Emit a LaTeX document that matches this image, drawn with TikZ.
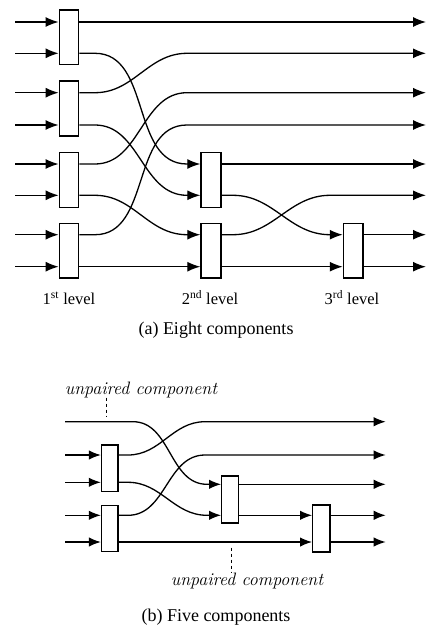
\documentclass[tikz,border=0pt]{standalone}
\usepackage{fontspec}
\newfontfamily\tnrfont{Liberation Serif}
\usetikzlibrary{arrows.meta,calc}
\tikzset{
  box/.style={draw, fill=white, line width=1.4pt, inner sep=0pt, minimum width=19.4pt},
  sbox/.style={draw, fill=white, line width=1.3pt, inner sep=0pt, minimum width=16.6pt, minimum height=46.7pt},
  wire/.style={line width=1.3pt},
  arr/.style={wire, -{Latex[length=13pt,width=10pt]}},
  sarr/.style={wire, -{Latex[length=12pt,width=9.4pt]}},
  lvl/.style={inner sep=0pt, font=\tnrfont\fontsize{16.5}{19}\selectfont},
  captext/.style={inner sep=0pt, font=\tnrfont\fontsize{18}{22}\selectfont},
  ulab/.style={inner sep=0pt, font=\itshape\fontsize{18}{21}\selectfont},
  pointer/.style={line width=0.9pt, dash pattern=on 3.5pt off 2.5pt},
}
\begin{document}
\begin{tikzpicture}[x=1pt,y=-1pt]
\useasboundingbox (0,0) rectangle (427,626);
% ---------------- (a) ----------------
\foreach \n/\y in {1/22,2/53.3,3/92.7,4/125,5/164,6/195.3,7/234.7,8/266.7} {
  \coordinate (in\n) at (15.3,\y);
  \coordinate (out\n) at (426,\y);
}
\coordinate (s1) at (95,0);  \coordinate (e1) at (187,0);
\coordinate (s2) at (233,0); \coordinate (e2) at (330,0);

\node[box, minimum height=54.3pt] (A1) at (69,37.15) {};
\node[box, minimum height=55pt]   (A2) at (69,108.5) {};
\node[box, minimum height=55pt]   (A3) at (69,179.8) {};
\node[box, minimum height=54.7pt] (A4) at (69,250.65) {};
\node[box, minimum width=20pt, minimum height=55pt]   (B1) at (211,179.8) {};
\node[box, minimum width=20pt, minimum height=54.7pt] (B2) at (211,250.65) {};
\node[box, minimum height=54.7pt] (C1) at (353.15,250.65) {};

\foreach \n/\b in {1/A1,2/A1,3/A2,4/A2,5/A3,6/A3,7/A4,8/A4}
  \draw[arr] (in\n) -- (\b.west |- in\n);

\draw[arr] (A1.east |- in1) -- (out1);
\draw[arr] (B1.east |- in5) -- (out5);
\draw[arr] (A4.east |- in8) -- (B2.west |- in8);
\draw[arr] (B2.east |- in8) -- (C1.west |- in8);
\draw[arr] (C1.east |- in7) -- (out7);
\draw[arr] (C1.east |- in8) -- (out8);

\draw[arr] (A1.east |- in2) -- (s1 |- in2) to[out=0,in=180] (e1 |- in5) -- (B1.west |- in5);
\draw[arr] (A2.east |- in3) -- (s1 |- in3) to[out=0,in=180] (e1 |- in2) -- (out2);
\draw[arr] (A2.east |- in4) -- (s1 |- in4) to[out=0,in=180] (e1 |- in6) -- (B1.west |- in6);
\draw[arr] (A3.east |- in5) -- (s1 |- in5) to[out=0,in=180] (e1 |- in3) -- (out3);
\draw[arr] (A3.east |- in6) -- (s1 |- in6) to[out=0,in=180] (e1 |- in7) -- (B2.west |- in7);
\draw[arr] (A4.east |- in7) -- (s1 |- in7) to[out=0,in=180] (e1 |- in4) -- (out4);
\draw[arr] (B1.east |- in6) -- (s2 |- in6) to[out=0,in=180] (e2 |- in7) -- (C1.west |- in7);
\draw[arr] (B2.east |- in7) -- (s2 |- in7) to[out=0,in=180] (e2 |- in6) -- (out6);

\node[lvl, anchor=base] (L1) at (69,304.5) {1\textsuperscript{st} level};
\node[lvl, anchor=base] (L2) at (210,304.5) {2\textsuperscript{nd} level};
\node[lvl, anchor=base] (L3) at (352,304.5) {3\textsuperscript{rd} level};
\node[captext, anchor=base] (capa) at (216,334.5) {(a) Eight components};

% ---------------- (b) ----------------
\foreach \n/\y in {1/421.7,2/455,3/482.3,4/515.3,5/542} {
  \coordinate (bin\n) at (65,\y);
}
\foreach \n/\y in {1/421.7,2/455,3/484.3,4/515.3,5/542} {
  \coordinate (bout\n) at (385.7,\y);
}
\coordinate (s3) at (128,0); \coordinate (e3) at (205,0);
\coordinate (s4) at (133,0); \coordinate (e4) at (207,0);

\node[sbox, minimum width=16.5pt] (D1) at (109.75,468.35) {};
\node[sbox, minimum width=16.5pt, minimum height=46.4pt] (D2) at (109.75,528.5) {};
\node[sbox, minimum height=47pt] (E1) at (230,499.5) {};
\node[sbox, minimum width=17.3pt, minimum height=47pt] (F1) at (321.35,528.5) {};

\draw[sarr] (bin2) -- (D1.west |- bin2);
\draw[sarr] (bin3) -- (D1.west |- bin3);
\draw[sarr] (bin4) -- (D2.west |- bin4);
\draw[sarr] (bin5) -- (D2.west |- bin5);

\draw[sarr] (bin1) -- (s4 |- bin1) to[out=0,in=180] (e4 |- bout3) -- (E1.west |- bout3);
\draw[sarr] (D1.east |- bin2) -- (s3 |- bin2) to[out=0,in=180] (e3 |- bout1) -- (bout1);
\draw[sarr] (D1.east |- bin3) -- (s3 |- bin3) to[out=0,in=180] (e4 |- bout4) -- (E1.west |- bout4);
\draw[sarr] (D2.east |- bin4) -- (s3 |- bin4) to[out=0,in=180] (e3 |- bout2) -- (bout2);
\draw[sarr] (D2.east |- bin5) -- (F1.west |- bin5);
\draw[sarr] (E1.east |- bout3) -- (bout3);
\draw[sarr] (E1.east |- bout4) -- (F1.west |- bout4);
\draw[sarr] (F1.east |- bout4) -- (bout4);
\draw[sarr] (F1.east |- bout5) -- (bout5);

\node[ulab, anchor=base] (u1) at (141,394) {unpaired component};
\coordinate (d1) at (106.7,416);
\draw[pointer] (u1.south -| d1) -- (d1);
\node[ulab, anchor=base] (u2) at (247,585) {unpaired component};
\coordinate (d2) at (231,547.5);
\draw[pointer] (d2) -- (u2.north -| d2);
\node[captext, anchor=base] (capb) at (216,621.5) {(b) Five components};
\end{tikzpicture}
\end{document}
